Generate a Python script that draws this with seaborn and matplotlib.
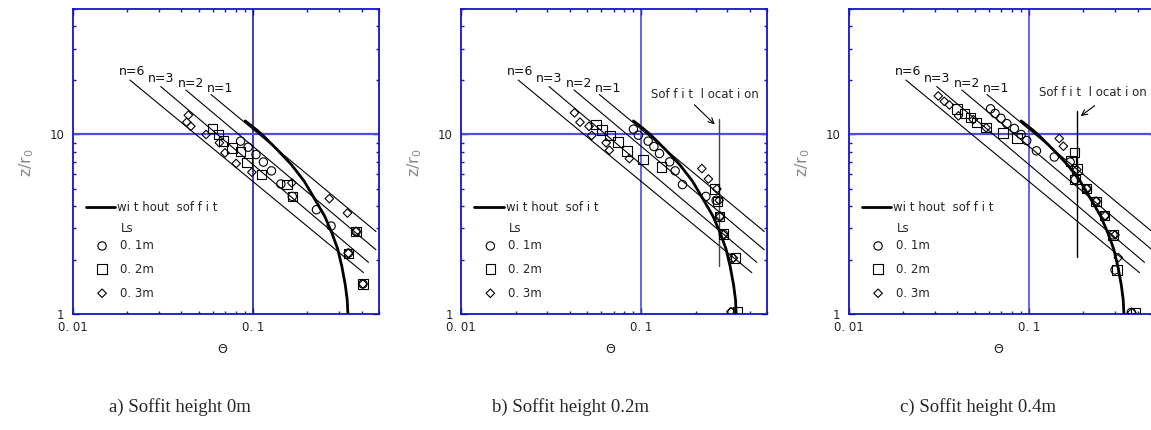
import matplotlib
matplotlib.use("Agg")
import matplotlib.pyplot as plt
import matplotlib.ticker as mticker
import numpy as np
import seaborn as sns

# plume without soffit (same curve on all three panels)
curve_theta = [0.0903, 0.100, 0.112, 0.135, 0.163, 0.192, 0.221, 0.250, 0.274, 0.295, 0.311, 0.325, 0.333, 0.336]
curve_z = [11.9, 11.0, 10.0, 8.3, 6.8, 5.5, 4.33, 3.5, 2.82, 2.3, 1.84, 1.45, 1.2, 1.0]

# reference lines n=1,2,3,6 (start / end points)
n_names = ["n=1", "n=2", "n=3", "n=6"]
n_theta0 = [0.0584, 0.0423, 0.0307, 0.0207]
n_z0 = [16.7, 17.7, 18.5, 20.1]
n_theta1 = [0.481, 0.481, 0.437, 0.410]
n_z1 = [2.88, 2.28, 1.94, 1.70]

# a) soffit height 0m
a_c_x = [0.0852, 0.0938, 0.1037, 0.114, 0.1264, 0.1426, 0.165, 0.2248, 0.271, 0.373, 0.338, 0.407]
a_c_y = [9.18, 8.49, 7.73, 7.02, 6.27, 5.30, 4.52, 3.81, 3.09, 2.88, 2.18, 1.47]
a_s_x = [0.0597, 0.0641, 0.0684, 0.0762, 0.0848, 0.0923, 0.1117, 0.154, 0.165, 0.373, 0.338, 0.407]
a_s_y = [10.8, 10.0, 9.18, 8.43, 8.04, 7.0, 5.98, 5.26, 4.52, 2.88, 2.18, 1.47]
a_d_x = [0.0437, 0.0428, 0.0451, 0.0548, 0.065, 0.0698, 0.0805, 0.0984, 0.164, 0.265, 0.334, 0.373, 0.338, 0.407]
a_d_y = [12.8, 11.7, 11.1, 10.0, 8.99, 7.9, 6.89, 6.16, 5.37, 4.39, 3.65, 2.88, 2.18, 1.47]

# b) soffit height 0.2m
b_c_x = [0.0903, 0.0962, 0.109, 0.1173, 0.126, 0.1436, 0.154, 0.169, 0.228, 0.26, 0.272, 0.285, 0.318, 0.318]
b_c_y = [10.7, 9.91, 9.18, 8.57, 7.83, 7.04, 6.27, 5.26, 4.52, 4.30, 3.50, 2.78, 2.05, 1.02]
b_s_x = [0.056, 0.0603, 0.067, 0.074, 0.083, 0.1019, 0.1297, 0.2545, 0.2644, 0.272, 0.2855, 0.332, 0.341]
b_s_y = [11.4, 10.6, 9.87, 9.1, 8.07, 7.25, 6.6, 4.97, 4.24, 3.50, 2.79, 2.05, 1.03]
b_d_x = [0.0425, 0.0456, 0.0512, 0.053, 0.0637, 0.0664, 0.0857, 0.2166, 0.2355, 0.2624, 0.2704, 0.2735, 0.2855, 0.3243, 0.314]
b_d_y = [13.2, 11.7, 11.1, 9.87, 8.99, 8.17, 7.34, 6.46, 5.65, 4.97, 4.30, 3.50, 2.76, 2.05, 1.03]

# c) soffit height 0.4m
c_c_x = [0.0611, 0.0647, 0.0698, 0.0752, 0.0828, 0.0903, 0.097, 0.1098, 0.138, 0.169, 0.180, 0.208, 0.235, 0.2625, 0.292, 0.30, 0.369]
c_c_y = [13.9, 13.1, 12.3, 11.5, 10.8, 10.0, 9.25, 8.11, 7.49, 7.02, 5.61, 4.99, 4.24, 3.53, 2.76, 1.76, 1.02]
c_s_x = [0.0398, 0.0438, 0.0474, 0.0509, 0.0577, 0.0717, 0.0857, 0.178, 0.1705, 0.184, 0.180, 0.208, 0.235, 0.2625, 0.292, 0.307, 0.39]
c_s_y = [13.9, 13.1, 12.4, 11.7, 10.9, 10.2, 9.58, 7.93, 7.11, 6.42, 5.61, 4.99, 4.24, 3.53, 2.76, 1.76, 1.02]
c_d_x = [0.0313, 0.0338, 0.0361, 0.0405, 0.049, 0.0577, 0.147, 0.155, 0.184, 0.209, 0.2355, 0.2644, 0.30, 0.313, 0.372]
c_d_y = [16.4, 15.3, 14.6, 12.7, 12.1, 10.9, 9.5, 8.6, 6.37, 4.99, 4.24, 3.53, 2.76, 2.06, 1.02]

# soffit location (theta, bottom z, top z); None for panel a
soffit = [None, (0.271, 1.86, 12.2), (0.185, 2.09, 13.6)]

captions = ["a) Soffit height 0m", "b) Soffit height 0.2m", "c) Soffit height 0.4m"]
legend_curve = ["wi t hout  sof f i t", "wi t hout  sof i t", "wi t hout  sof f i t"]
ls_labels = ["0. 1m", "0. 2m", "0. 3m"]

sns.set_style("ticks")
plt.rcParams["font.family"] = ["DejaVu Sans"]

W, H = 1151, 430
fig = plt.figure(figsize=(W / 100, H / 100), dpi=100)

blue = "#1414c8"
panel_left = [73, 461.3, 849]
series = [
    [(a_c_x, a_c_y), (a_s_x, a_s_y), (a_d_x, a_d_y)],
    [(b_c_x, b_c_y), (b_s_x, b_s_y), (b_d_x, b_d_y)],
    [(c_c_x, c_c_y), (c_s_x, c_s_y), (c_d_x, c_d_y)],
]
marks = [("o", 36), ("s", 46), ("D", 19)]
cap_x = [180, 570, 978]

for i in range(3):
    ax = fig.add_axes([panel_left[i] / W, 1 - 314 / H, 306 / W, 305 / H])
    ax.set_xscale("log")
    ax.set_yscale("log")
    ax.set_xlim(0.01, 0.5)
    ax.set_ylim(1, 50)

    vcol = "#10109a" if i == 0 else "#3c3cdc"
    ax.axvline(0.1, color=vcol, lw=1.1, zorder=1)
    ax.axhline(10, color="#4f4fe0", lw=1.6, zorder=1)

    for k in range(4):
        sns.lineplot(x=[n_theta0[k], n_theta1[k]], y=[n_z0[k], n_z1[k]],
                     color="k", lw=0.8, ax=ax, zorder=2, estimator=None)
    # n labels
    for name, tx, ty in zip(n_names, [0.0656, 0.0451, 0.0308, 0.0212], [18.0, 19.3, 20.6, 22.3]):
        ax.text(tx, ty, name, fontsize=9, ha="center", va="center", color="#111111")

    sns.lineplot(x=curve_theta, y=curve_z, sort=False, estimator=None,
                 color="k", lw=2.0, ax=ax, zorder=4)

    for (xs, ys), (m, s) in zip(series[i], marks):
        sns.scatterplot(x=xs, y=ys, marker=m, s=s, facecolor="none", edgecolor="k",
                        linewidth=0.8, ax=ax, legend=False, zorder=3)

    if soffit[i] is not None:
        sx, zb, zt = soffit[i]
        sns.lineplot(x=[sx, sx], y=[zb, zt], estimator=None, sort=False,
                     color="#444444" if i == 1 else "k", lw=1.0, ax=ax, zorder=2)
        if i == 1:
            ax.annotate("", xy=(0.262, 11.1), xytext=(0.192, 15.0),
                        arrowprops=dict(arrowstyle="->", lw=0.8, color="k"))
            ax.text(0.113, 16.7, "Sof f i t  l ocat i on", fontsize=8.5, va="center", ha="left")
        else:
            ax.annotate("", xy=(0.188, 12.4), xytext=(0.238, 14.8),
                        arrowprops=dict(arrowstyle="->", lw=0.8, color="k"))
            ax.text(0.113, 17.1, "Sof f i t  l ocat i on", fontsize=8.5, va="center", ha="left")

    # in-plot legend
    ax.plot([0.042, 0.138], [0.35, 0.35], color="k", lw=2.0, transform=ax.transAxes)
    ax.text(0.145, 0.35, legend_curve[i], fontsize=8.5, va="center", transform=ax.transAxes)
    ax.text(0.156, 0.281, "Ls", fontsize=8.5, va="center", transform=ax.transAxes)
    for (m, s), lab, ly in zip(marks, ls_labels, [0.223, 0.147, 0.068]):
        ax.scatter([0.095], [ly], marker=m, s=s, facecolor="none", edgecolor="k",
                   linewidth=0.8, transform=ax.transAxes, clip_on=False)
        ax.text(0.154, ly, lab, fontsize=8.5, va="center", transform=ax.transAxes)

    # axes styling
    for sp in ax.spines.values():
        sp.set_color(blue)
        sp.set_linewidth(1.3)
        sp.set_visible(True)
    ax.set_xticks([0.01, 0.1])
    ax.set_xticklabels(["0. 01", "0. 1"])
    ax.set_yticks([1, 10])
    ax.set_yticklabels(["1", "10"])
    ax.xaxis.set_minor_locator(mticker.LogLocator(base=10, subs=np.arange(2, 10)))
    ax.yaxis.set_minor_locator(mticker.LogLocator(base=10, subs=np.arange(2, 10)))
    ax.xaxis.set_minor_formatter(mticker.NullFormatter())
    ax.yaxis.set_minor_formatter(mticker.NullFormatter())
    ax.tick_params(which="both", direction="in", top=True, right=True, color=blue,
                   width=1.0, labelsize=8.5, labelcolor="#222222")
    ax.tick_params(which="major", length=4.5)
    ax.tick_params(which="minor", length=2.5)
    ax.tick_params(axis="x", pad=5)
    ax.tick_params(axis="y", pad=6)
    ax.set_xlabel("")
    ax.set_ylabel("")
    ax.text(0.487, -0.115, "\u0398", fontsize=9, ha="center", va="center",
            transform=ax.transAxes, color="#222222")
    ax.text(-0.151, 0.495, "z/r$_0$", fontsize=11.5, ha="center", va="center",
            rotation=90, transform=ax.transAxes, color="#8a8a8a")

    fig.text(cap_x[i] / W, 1 - 407 / H, captions[i], fontsize=13.5,
             family="Liberation Serif", ha="center", va="center")

fig.savefig("out.png", dpi=100)
